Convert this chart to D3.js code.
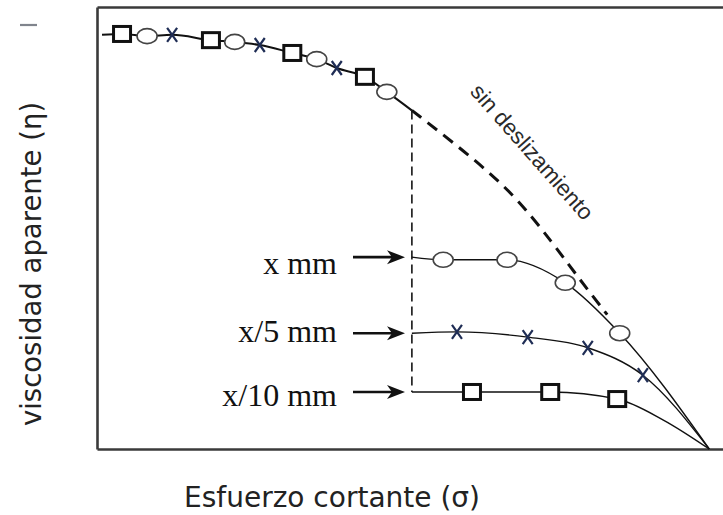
<!DOCTYPE html>
<html>
<head>
<meta charset="utf-8">
<script src="https://cdn.jsdelivr.net/npm/d3@7/dist/d3.min.js"></script>
<style>
  html, body { margin: 0; padding: 0; background: #fff; }
  svg { display: block; }
</style>
</head>
<body>
<svg id="chart" width="723" height="515"></svg>
<script>
// Apparent viscosity vs. shear stress for different gap sizes (arbitrary units, 0–100)

// Curve without slip (upper branch, shared by all gaps)
const noSlipCurve = [[0.8, 93.7], [4.0, 93.9], [8.0, 93.4], [12.0, 93.7], [18.2, 92.5], [22.0, 92.1], [26.0, 91.4], [31.2, 89.6], [35.1, 88.2], [38.3, 86.2], [42.8, 84.2], [46.3, 80.8], [50.3, 76.6]];
const noSlipDashed = [[50.3, 76.6], [58.5, 67.6], [66.5, 57.9], [72.8, 46.6], [77.2, 38.2], [81.5, 30.4]];
const upperSquares = [[4.0, 93.9], [18.2, 92.5], [31.2, 89.6], [42.8, 84.2]];
const upperCircles = [[8.0, 93.4], [22.0, 92.1], [35.1, 88.2], [46.3, 80.8]];
const upperCrosses = [[12.0, 93.7], [26.0, 91.4], [38.3, 86.2]];

// Gap "x mm"
const gapXCurve = [[50.3, 43.4], [55.3, 42.8], [65.5, 42.8], [74.8, 37.6], [83.5, 26.2], [97.8, 0]];
const gapXCircles = [[55.3, 42.8], [65.5, 42.8], [74.8, 37.6], [83.5, 26.2]];

// Gap "x/5 mm"
const gapX5Curve = [[50.3, 26.2], [57.5, 26.5], [68.8, 25.3], [78.4, 22.9], [87.2, 16.7], [97.8, 0]];
const gapX5Crosses = [[57.5, 26.5], [68.8, 25.3], [78.4, 22.9], [87.2, 16.7]];

// Gap "x/10 mm"
const gapX10Curve = [[50.3, 12.9], [59.9, 12.9], [72.4, 12.9], [83.1, 11.3], [90.4, 6.6], [97.8, 0]];
const gapX10Squares = [[59.9, 12.9], [72.4, 12.9], [83.1, 11.3]];

// Gap labels (top to bottom)
const gapLabels = ["x mm", "x/5 mm", "x/10 mm"];
const noSlipLabel = "sin deslizamiento";
const xTitle = "Esfuerzo cortante (σ)";
const yTitle = "viscosidad aparente (η)";

const svg = d3.select("#chart");
const x = d3.scaleLinear().domain([0, 100]).range([97, 723]);
const y = d3.scaleLinear().domain([0, 100]).range([449, 7]);

const line = d3.line().x(d => x(d[0])).y(d => y(d[1])).curve(d3.curveMonotoneX);
const smooth = d3.line().x(d => x(d[0])).y(d => y(d[1])).curve(d3.curveBasis);
const straight = d3.line().x(d => x(d[0])).y(d => y(d[1]));

// Frame: left, top and bottom axis lines without ticks
function frame(axis, tx, ty) {
  const g = svg.append("g").attr("transform", `translate(${tx},${ty})`).call(axis);
  g.select(".domain").attr("stroke", "#3a3a3a").attr("stroke-width", 2.6);
}
frame(d3.axisLeft(y).ticks(0).tickSizeOuter(0), x(0), 0);
frame(d3.axisBottom(x).ticks(0).tickSizeOuter(0), 0, y(0));
frame(d3.axisTop(x).ticks(0).tickSizeOuter(0), 0, y(100));

// Small stray mark at the top of the viscosity axis
svg.append("line").attr("x1", 20).attr("x2", 37).attr("y1", 25).attr("y2", 25)
  .attr("stroke", "#6b6f7a").attr("stroke-width", 2.2).attr("opacity", 0.85);

// Vertical dashed drop from the no-slip curve down to the smallest gap
svg.append("path")
  .attr("d", straight([noSlipCurve[noSlipCurve.length - 1], [gapX10Curve[0][0], gapX10Curve[0][1]]]))
  .attr("fill", "none").attr("stroke", "#222").attr("stroke-width", 1.7)
  .attr("stroke-dasharray", "9,5");

// No-slip dashed continuation
svg.append("path").attr("d", smooth(noSlipDashed))
  .attr("fill", "none").attr("stroke", "#111").attr("stroke-width", 3)
  .attr("stroke-dasharray", "12,8");

// Solid curves
svg.append("path").attr("d", line(noSlipCurve))
  .attr("fill", "none").attr("stroke", "#111").attr("stroke-width", 2);
[gapXCurve, gapX5Curve, gapX10Curve].forEach(c => {
  svg.append("path").attr("d", line(c))
    .attr("fill", "none").attr("stroke", "#111").attr("stroke-width", 1.4);
});

// Markers
function squares(data) {
  svg.append("g").selectAll("rect").data(data).join("rect")
    .attr("x", d => x(d[0]) - 8.5).attr("y", d => y(d[1]) - 7.5)
    .attr("width", 17).attr("height", 15)
    .attr("fill", "#fff").attr("stroke", "#111").attr("stroke-width", 3);
}
function circles(data) {
  svg.append("g").selectAll("ellipse").data(data).join("ellipse")
    .attr("cx", d => x(d[0])).attr("cy", d => y(d[1]))
    .attr("rx", 10).attr("ry", 7.5)
    .attr("fill", "#fff").attr("stroke", "#444").attr("stroke-width", 1.6);
}
function crosses(data) {
  svg.append("g").selectAll("path").data(data).join("path")
    .attr("d", d => {
      const cx = x(d[0]), cy = y(d[1]);
      return `M${cx - 5},${cy - 7}L${cx + 5},${cy + 7}M${cx + 5},${cy - 7}L${cx - 5},${cy + 7}`;
    })
    .attr("fill", "none").attr("stroke", "#1f2d55").attr("stroke-width", 2.2);
}
squares(upperSquares);
circles(upperCircles);
crosses(upperCrosses);
circles(gapXCircles);
crosses(gapX5Crosses);
squares(gapX10Squares);

// Arrows and gap labels
const labelOffsets = [17, 9, 14];
[gapXCurve, gapX5Curve, gapX10Curve].forEach((c, i) => {
  const ay = y(c[0][1]);
  svg.append("line").attr("x1", 353).attr("x2", 392).attr("y1", ay).attr("y2", ay)
    .attr("stroke", "#111").attr("stroke-width", 2.6);
  svg.append("path")
    .attr("d", `M405,${ay}L387,${ay - 7}L392,${ay}L387,${ay + 7}Z`)
    .attr("fill", "#111");
  svg.append("text").attr("x", 337).attr("y", ay + labelOffsets[i])
    .attr("text-anchor", "end")
    .attr("font-family", "'Liberation Serif', 'Times New Roman', serif")
    .attr("font-size", 32).attr("fill", "#111")
    .text(gapLabels[i]);
});

// Label along the no-slip curve
svg.append("text")
  .attr("transform", "translate(532,152) rotate(48.5)")
  .attr("text-anchor", "middle").attr("dominant-baseline", "central")
  .attr("font-family", "'Liberation Sans', Arial, sans-serif")
  .attr("font-size", 22.5).attr("fill", "#2a2a2a")
  .text(noSlipLabel);

// Axis titles
svg.append("text")
  .attr("x", 332).attr("y", 507)
  .attr("text-anchor", "middle")
  .attr("font-family", "'DejaVu Sans', Verdana, sans-serif")
  .attr("font-size", 28).attr("fill", "#222")
  .text(xTitle);

svg.append("text")
  .attr("transform", "translate(41,264) rotate(-90)")
  .attr("text-anchor", "middle")
  .attr("font-family", "'DejaVu Sans', Verdana, sans-serif")
  .attr("font-size", 27.5).attr("fill", "#222")
  .text(yTitle);
</script>
</body>
</html>
